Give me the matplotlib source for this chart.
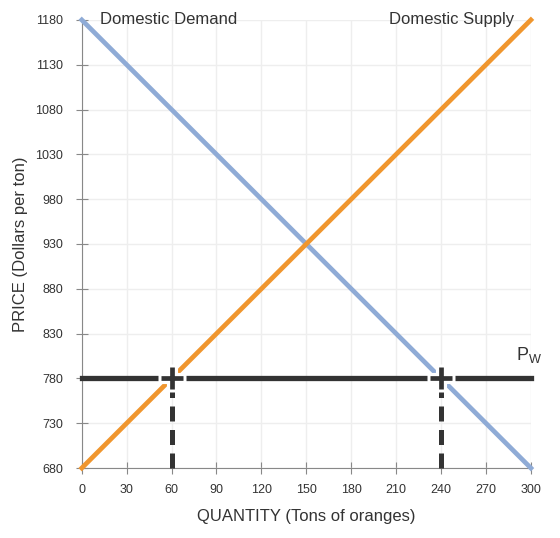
import matplotlib.pyplot as plt
import numpy as np

plt.rcParams['font.family'] = ['Liberation Sans', 'DejaVu Sans']
plt.rcParams['mathtext.fontset'] = 'custom'
plt.rcParams['mathtext.rm'] = 'Liberation Sans'

quantity = [0, 300]
demand_price = [1180, 680]
supply_price = [680, 1180]
world_price = 780
q_supplied = 60
q_demanded = 240
x_ticks = np.arange(0, 301, 30)
y_ticks = np.arange(680, 1181, 50)

fig = plt.figure(figsize=(5.6, 5.38), dpi=100)
ax = fig.add_axes([0.146, 0.130, 0.802, 0.833])

ax.set_xlim(0, 300)
ax.set_ylim(680, 1180)
ax.set_xticks(x_ticks)
ax.set_yticks(y_ticks)
ax.grid(True, color='#eeeeee', linewidth=1)
ax.set_axisbelow(True)
for s in ['top', 'right']:
    ax.spines[s].set_visible(False)
for s in ['left', 'bottom']:
    ax.spines[s].set_color('#888888')
ax.tick_params(colors='#888888', length=9, direction='inout', labelcolor='#333333', labelsize=9)
ax.tick_params(axis='x', pad=7)
ax.tick_params(axis='y', pad=9)

ax.plot(quantity, demand_price, color='#8fabd6', lw=3.4, clip_on=False, zorder=3)
ax.plot(quantity, supply_price, color='#f0962e', lw=3.4, clip_on=False, zorder=3)
ax.plot(quantity, [world_price, world_price], color='#333333', lw=3.8, clip_on=False, zorder=4)
for q in [q_supplied, q_demanded]:
    ax.plot([q, q], [680, world_price], color='#333333', lw=3.6, ls=(0, (3, 1.7)),
            clip_on=False, zorder=4)
    ax.plot([q], [world_price], marker='+', ms=20, mew=8, color='white', zorder=5, clip_on=False)
    ax.plot([q], [world_price], marker='+', ms=16, mew=3.4, color='#333333', zorder=6, clip_on=False)

ax.text(12, 1180, 'Domestic Demand', fontsize=12, color='#333333', va='center', ha='left')
ax.text(289, 1180, 'Domestic Supply', fontsize=12, color='#333333', va='center', ha='right')
ax.text(290, 795, r'$\mathregular{P_W}$', fontsize=13, color='#333333', va='bottom', ha='left')

ax.set_xlabel('QUANTITY (Tons of oranges)', fontsize=12, color='#333333', labelpad=9)
ax.set_ylabel('PRICE (Dollars per ton)', fontsize=12, color='#333333', labelpad=5)

fig.savefig('out.png', dpi=100)
